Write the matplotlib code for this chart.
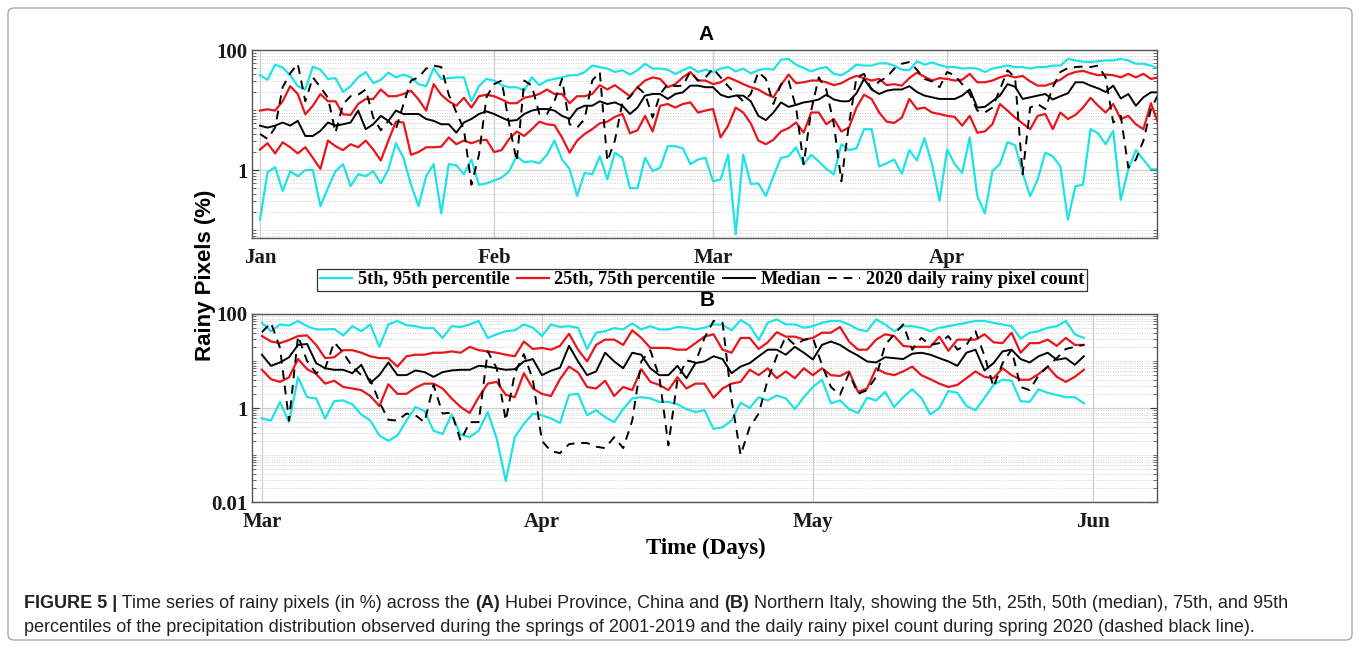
import numpy as np
import pandas as pd
import matplotlib
matplotlib.use('Agg')
import matplotlib.pyplot as plt
import matplotlib.dates as mdates
from matplotlib import font_manager
from matplotlib.text import Annotation
from matplotlib.transforms import IdentityTransform
from matplotlib.patches import FancyBboxPatch
from matplotlib.ticker import FixedLocator, FixedFormatter, LogLocator, NullFormatter

# ---- data: panel A (Hubei, Jan 1 - Apr 29), daily rainy pixels in % ----
start_a = '2020-01-01'
p95_a = [38, 32, 57, 51, 38, 25, 22, 53, 47, 33, 34, 20, 25, 35, 43, 28, 32, 42, 35, 39, 35, 27, 25, 50, 33, 34, 35, 35, 14, 25,
         33, 31, 26, 24, 24, 21, 35, 26, 31, 33, 35, 38, 38, 43, 55, 52, 49, 43, 46, 39, 46, 59, 49, 49, 47, 40, 46, 52, 43, 47,
         43, 49, 52, 44, 49, 41, 46, 49, 47, 69, 71, 57, 50, 44, 49, 52, 40, 38, 45, 57, 55, 55, 60, 60, 55, 47, 46, 65, 57, 62, 56,
         52, 52, 49, 50, 49, 43, 49, 52, 55, 52, 52, 49, 52, 52, 55, 55, 71, 67, 64, 63, 65, 67, 67, 71, 67, 59, 59, 55, 49]
p75_a = [9.8, 10.3, 9.8, 14, 25, 18.5, 8.5, 11.8, 18.5, 14, 14, 8.5, 8.3, 12.6, 15.3, 15.3, 22, 17, 17, 18.5, 21, 15, 9.8, 27, 18, 14, 11.8, 16, 11, 17,
         18, 17, 15, 13, 13, 16, 17, 18.5, 22, 18.5, 18.5, 13, 17, 17, 18.5, 26, 22, 26, 21, 17, 24, 31, 35, 33, 24, 27, 35, 43, 31, 31,
         27, 29, 35, 31, 27, 24, 22, 18.5, 16.3, 26, 39, 28, 29, 31, 31, 29, 26, 28, 33, 37, 34, 31, 33, 26, 27, 25.5, 34, 42, 36, 31, 34,
         33, 31, 32, 40, 29, 29, 31, 35, 38, 35, 37, 30, 25.5, 25.5, 28, 32, 39, 43, 45, 41, 38, 39, 38, 35, 40, 35, 40, 33, 35]
p50_a = [5.5, 5.1, 5.5, 6.2, 5.5, 6.6, 3.7, 3.7, 4.5, 6.2, 5.5, 5.8, 6.2, 9.8, 4.8, 5.8, 8.0, 6.6, 9.8, 8.6, 8.6, 8.6, 7.1, 6.6, 5.8, 5.8, 4.2, 6.2, 7.1, 8.6,
         9.5, 8.6, 7.5, 6.6, 6.8, 8.6, 9.8, 10.4, 10.4, 9.8, 8.0, 7.1, 10.4, 11.8, 11.8, 14, 12.6, 13.4, 11.8, 8.6, 11, 17.4, 18.5, 18.5, 15.3, 18.5, 19.7, 25.5, 25.5, 24,
         24, 18, 16.3, 17.4, 17.4, 14, 8, 6.8, 9.1, 13.4, 11.3, 12.2, 13.4, 14, 15, 18, 15, 14, 14, 19, 33, 22, 18.5, 21, 22, 22, 25, 20, 17.4, 16.3, 15.3,
         15.3, 15.3, 17.4, 22, 11, 11.3, 14, 17.4, 27, 24.5, 15.3, 16.3, 17.4, 18.5, 15, 17, 19, 29, 29, 25.5, 23, 20, 25.5, 15.6, 18.5, 11.8, 16.3, 19.7, 19.7]
p25_a = [2.2, 2.8, 1.9, 2.9, 2.4, 1.9, 2.4, 1.6, 1.05, 3.1, 2.5, 2.15, 2.7, 2.4, 3.1, 2.2, 1.45, 3.1, 6.4, 6.2, 1.8, 2.0, 2.4, 2.4, 2.45, 3.5, 2.7, 3.1, 2.8, 3.1,
         3.2, 2.0, 2.15, 3.3, 4.4, 3.7, 4.8, 6.4, 5.8, 5.6, 3.5, 1.95, 3.1, 4.0, 4.8, 6.0, 6.4, 7.7, 8.6, 4.1, 4.6, 8.0, 4.4, 11.8, 12.6, 11, 12.6, 13.4, 9.1, 9.8,
         10.4, 3.5, 5.5, 11, 9.1, 6, 3.1, 2.7, 3.2, 4.4, 5, 6.2, 4.2, 9.1, 9.1, 5.8, 7.1, 4.4, 5.1, 11, 18, 15.3, 9.1, 6.4, 6.1, 7.5, 15.3, 10.4, 11, 9.1, 8.6,
         8, 7.7, 5.5, 8, 4.2, 4.4, 5.8, 12.6, 9.8, 7.5, 6, 4.8, 8, 8.6, 4.8, 9.1, 7.1, 8.3, 11, 16, 11.8, 9.1, 12.6, 7.1, 8, 5.8, 4.8, 13, 5.8]
p5_a = [0.15, 0.92, 1.12, 0.45, 0.96, 0.79, 1.0, 1.0, 0.25, 0.5, 0.96, 1.26, 0.54, 0.85, 0.79, 0.96, 0.6, 1.03, 2.8, 1.6, 0.57, 0.25, 0.79, 1.26, 0.19, 1.26, 1.2, 0.85, 1.5, 0.57,
        0.6, 0.67, 0.75, 0.96, 1.7, 1.35, 1.4, 1.3, 1.8, 3.1, 1.5, 1.05, 0.37, 0.9, 0.85, 1.7, 0.7, 1.95, 1.6, 0.5, 0.5, 1.6, 0.96, 1.1, 2.5, 2.5, 2.3, 1.26, 1.5, 1.6,
        0.65, 0.7, 1.8, 0.085, 1.8, 0.59, 0.6, 0.37, 0.79, 1.6, 1.7, 2.4, 1.26, 1.8, 1.4, 1.05, 0.85, 2.7, 2.15, 2.3, 4.8, 4.8, 1.15, 1.3, 1.5, 0.87, 2.15, 1.45, 3.4, 1.26, 0.31,
        2.2, 1.26, 0.9, 3.5, 0.37, 0.19, 0.96, 1.26, 2.9, 2.6, 0.9, 0.37, 0.7, 1.95, 1.7, 1.15, 0.15, 0.54, 0.57, 4.8, 4.1, 2.7, 4.5, 0.32, 1.03, 2.15, 1.5, 1.03, 1.03]
y2020_a = [4.0, 3.3, 5.1, 24, 41, 59, 14, 35, 24, 16, 4.2, 12.6, 17, 18, 22, 7.5, 4.6, 6.6, 4.8, 12.6, 31, 35, 49, 55, 52, 18, 9.2, 4.8, 0.57, 1.8,
           16.5, 27, 31, 5.8, 1.4, 31, 25.5, 8.6, 8.6, 14, 33, 5.8, 5.1, 7.1, 31, 43, 1.4, 3.1, 13.4, 16.5, 24, 18.5, 7.5, 18.5, 27, 25, 25.5, 44, 31, 35,
           49, 35, 25, 18.5, 14, 18.5, 43, 33, 12.6, 27, 31, 11, 1.25, 9.8, 35, 22, 5.8, 0.65, 5.8, 35, 40, 22, 30, 35, 49, 59, 63, 47, 33, 30, 24,
           43, 38, 27, 18.5, 9.8, 9.1, 11, 22, 46, 35, 0.85, 11, 12.6, 10.4, 24, 43, 50, 52, 53, 52, 55, 35, 6.2, 8, 1.1, 1.5, 3.1, 10.4, 18.5]

# ---- data: panel B (Northern Italy, Mar 1 - May 31) ----
start_b = '2020-03-01'
p95_b = [65, 43, 60, 57, 71, 55, 47, 47, 48, 35, 55, 43, 60, 20, 60, 71, 58, 55, 50, 50, 31, 55, 53, 60, 71, 31, 37, 43, 45, 60, 51, 34,
         60, 53, 55, 51, 18, 40, 43, 50, 47, 63, 47, 55, 47, 47, 53, 51, 47, 51, 60, 59, 45, 74, 57, 28, 65, 77, 60, 60, 51, 55,
         65, 71, 71, 60, 47, 43, 77, 60, 43, 55, 55, 51, 43, 51, 55, 60, 65, 71, 71, 65, 60, 55, 30, 40, 43, 51, 55, 71, 37, 31]
p75_b = [34, 26, 24, 28, 34, 35, 22, 11.5, 12, 17, 17, 15, 12.6, 11.5, 11.5, 7.6, 12.6, 13.6, 13.6, 15, 15, 16, 15, 20, 17, 16, 15, 13.6, 12.6, 26, 18, 19,
         17.4, 21, 38, 17.4, 9.8, 22, 28.5, 28.5, 22, 45, 31, 19, 19, 19, 17.4, 17.4, 24, 33, 37, 17.4, 15, 31, 31, 18, 25, 41, 33, 33, 28.5, 31,
         40, 40, 53, 26, 17.4, 17.4, 28.5, 37, 34, 21, 20, 20, 20, 33, 16.5, 28.5, 28.5, 28.5, 37, 25, 24, 40, 15, 24, 24, 28.5, 21, 31, 22, 22]
p50_b = [13.6, 7.9, 9.3, 12, 22, 23, 9, 7, 6.5, 6.5, 5.5, 8.3, 3.4, 5, 9.3, 5, 5, 6.3, 5.8, 4.6, 5.8, 6.3, 6.5, 6.5, 7.9, 7.6, 7, 6.5, 6.7, 9.8, 11, 5,
         6.2, 7.2, 21, 9.8, 5, 6, 15, 9.8, 7, 15, 13.6, 7, 5, 5, 7.9, 4.3, 9, 9.8, 12.6, 11, 5.5, 7.6, 9, 12.6, 17.4, 17.4, 13.6, 20, 15, 10.8,
         22, 26, 22, 16.5, 13, 9.8, 9.3, 12, 11.5, 11, 14.3, 15, 13.6, 11.5, 9.8, 7.9, 15, 17.4, 6.3, 9, 16, 17.4, 11, 9.3, 12.6, 15, 10.6, 11.5, 8.3, 12.6]
p25_b = [6.5, 4.1, 3.6, 4.5, 11, 6.7, 5.3, 3.3, 3.8, 2.8, 2.6, 2.4, 1.8, 1.1, 3.2, 2.0, 2.0, 2.7, 3.3, 3.3, 2.6, 1.6, 1.05, 0.78, 1.7, 3.3, 3.6, 1.9, 1.7, 5.5, 2.6, 2.0,
         1.8, 4.1, 7.6, 5.7, 2.8, 2.6, 3.8, 1.8, 2.8, 2.4, 6.7, 3.6, 3.1, 2.4, 4.5, 2.6, 3.3, 3.3, 1.65, 2.6, 3.3, 3.6, 6.5, 5, 7, 4.3, 6, 4.3, 7, 5,
         7, 5, 4.8, 6, 2.2, 2.6, 7, 5.5, 5, 6, 7.6, 5, 4.1, 3.3, 2.8, 3.1, 4.3, 6, 4.6, 4.3, 7, 5, 4, 4, 5.3, 7.6, 4.6, 3.6, 4.6, 6.5]
p5_b = [0.6, 0.54, 1.35, 0.5, 4.5, 1.7, 1.6, 0.6, 1.4, 1.45, 1.2, 0.73, 0.54, 0.26, 0.2, 0.26, 0.54, 1.05, 0.86, 0.33, 0.28, 0.73, 0.27, 0.24, 0.33, 0.82, 0.22, 0.028, 0.24, 0.46, 0.76, 0.7,
        0.6, 0.48, 1.9, 2.0, 0.7, 0.9, 0.64, 0.5, 0.95, 1.6, 1.7, 1.6, 1.35, 1.35, 1.2, 0.95, 0.82, 0.9, 0.36, 0.39, 0.54, 1.3, 1.0, 1.7, 1.45, 1.85, 1.6, 0.95, 1.7, 2.8,
        4, 1.26, 1.45, 0.95, 0.78, 1.65, 1.45, 2.2, 1.05, 1.7, 2.5, 1.65, 0.73, 1.0, 2.3, 2.1, 1.1, 0.9, 1.65, 3.1, 4, 3.8, 1.4, 1.35, 2.5, 2.1, 1.9, 1.7, 1.7, 1.26]
y2020_b = [41, 65, 19, 0.54, 34, 10, 5.5, 7, 25, 15, 7.6, 5, 4, 1.35, 0.56, 0.54, 0.76, 0.7, 0.5, 3.1, 0.76, 0.8, 0.2, 0.5, 0.5, 16, 7, 0.54, 5.5, 14, 4, 0.2,
           0.12, 0.11, 0.17, 0.18, 0.18, 0.15, 0.14, 0.24, 0.14, 0.54, 9.8, 17, 4.6, 0.16, 4, 10.3, 9.3, 31, 71, 65, 1.5, 0.1, 0.39, 0.76, 4, 12.6, 33, 22, 28, 31,
           8.3, 2.8, 1.9, 5.5, 2.0, 2.4, 4.6, 22, 37, 60, 17.4, 31, 22, 24, 34, 17.4, 22, 43, 13, 2.8, 9, 17.4, 2.8, 2.4, 5, 7.6, 11.5, 18, 20, 22]

legend_labels = ['5th, 95th percentile', '25th, 75th percentile', 'Median', '2020 daily rainy pixel count']

caption_1 = [('FIGURE 5 |', 'bold'), (' Time series of rainy pixels (in %) across the ', 'normal'), ('(A)', 'bold'),
             (' Hubei Province, China and ', 'normal'), ('(B)', 'bold'),
             (' Northern Italy, showing the 5th, 25th, 50th (median), 75th, and 95th', 'normal')]
caption_2 = ('percentiles of the precipitation distribution observed during the springs of 2001-2019 '
             'and the daily rainy pixel count during spring 2020 (dashed black line).')

# ---- style ----
W, H = 1360, 648
SERIF = ['Liberation Serif', 'DejaVu Serif']
SANS = ['Liberation Sans', 'DejaVu Sans']
CYAN = '#1EE3E6'
RED = '#E8161C'
GRID = '#cfcfcf'

installed = {f.name for f in font_manager.fontManager.ttflist}
CAP_FONT = ['Liberation Sans Narrow'] + SANS if 'Liberation Sans Narrow' in installed else SANS


def fig_box(l, t, r, b):
    return [l / W, 1 - b / H, (r - l) / W, (b - t) / H]


fig = plt.figure(figsize=(W / 100, H / 100), dpi=100)
ax_a = fig.add_axes(fig_box(252, 50, 1157, 238))
ax_b = fig.add_axes(fig_box(252, 314, 1157, 502))


def draw_panel(ax, start, p5, p25, p50, p75, p95, y2020, xlim_days, ylow, yticks, ylabels):
    dates = pd.date_range(start, periods=len(p5), freq='D')
    lines = []
    lines.append(ax.plot(dates, p95, color=CYAN, lw=1.6)[0])
    ax.plot(dates, p5, color=CYAN, lw=1.6)
    lines.append(ax.plot(dates, p75, color=RED, lw=1.6)[0])
    ax.plot(dates, p25, color=RED, lw=1.6)
    lines.append(ax.plot(dates, p50, color='black', lw=1.4)[0])
    lines.append(ax.plot(dates, y2020, color='black', lw=1.4, ls=(0, (4.5, 3.5)))[0])

    t0 = pd.Timestamp(start)
    ax.set_xlim(t0 + pd.Timedelta(days=xlim_days[0]), t0 + pd.Timedelta(days=xlim_days[1]))
    ax.set_yscale('log')
    ax.set_ylim(ylow, 100)

    ax.yaxis.set_major_locator(FixedLocator(yticks))
    ax.yaxis.set_major_formatter(FixedFormatter(ylabels))
    ax.yaxis.set_minor_locator(LogLocator(base=10, subs=np.arange(1, 10), numticks=30))
    ax.yaxis.set_minor_formatter(NullFormatter())
    ax.xaxis.set_major_locator(mdates.MonthLocator())
    ax.xaxis.set_major_formatter(mdates.DateFormatter('%b'))

    ax.grid(True, which='major', color=GRID, lw=0.9)
    ax.grid(True, which='minor', axis='y', color=GRID, lw=0.7, ls=(0, (1, 1.5)))
    ax.set_axisbelow(True)

    ax.tick_params(axis='y', which='major', direction='in', length=5, width=0.8, right=True, pad=3, colors='#333333')
    ax.tick_params(axis='y', which='minor', direction='in', length=3, width=0.6, right=True, colors='#555555')
    ax.tick_params(axis='x', which='both', length=0, pad=7)
    for lab in ax.get_xticklabels() + ax.get_yticklabels():
        lab.set_family(SERIF)
        lab.set_fontweight('bold')
        lab.set_fontsize(15)
        lab.set_color('#1a1a1a')
    for sp in ax.spines.values():
        sp.set_color('#555555')
        sp.set_linewidth(1.0)
    return lines


handles = draw_panel(ax_a, start_a, p5_a, p25_a, p50_a, p75_a, p95_a, y2020_a,
                     (-1.06, 118.8), 0.074, [1, 100], ['1', '100'])
draw_panel(ax_b, start_b, p5_b, p25_b, p50_b, p75_b, p95_b, y2020_b,
           (-1.1, 99.1), 0.01, [0.01, 1, 100], ['0.01', '1', '100'])

# panel letters, axis labels
fig.text(706 / W, 1 - 35 / H, 'A', ha='center', va='center', family=SANS, fontweight='bold', fontsize=15)
fig.text(707 / W, 1 - 300 / H, 'B', ha='center', va='center', family=SANS, fontweight='bold', fontsize=15)
fig.text(205 / W, 1 - 275 / H, 'Rainy Pixels (%)', rotation=90, ha='center', va='center',
         family=SANS, fontweight='bold', fontsize=16)
fig.text(706 / W, 1 - 548 / H, 'Time (Days)', ha='center', va='center',
         family=SERIF, fontweight='bold', fontsize=16.5)

leg = fig.legend(handles, legend_labels, loc='center', bbox_to_anchor=(702 / W, 1 - 280 / H), ncol=4,
                 prop=dict(family=SERIF, weight='bold', size=13.2), handlelength=1.75, handletextpad=0.3,
                 columnspacing=0.4, borderpad=0.15, borderaxespad=0, fancybox=False, framealpha=1,
                 edgecolor='#333333')
leg.get_frame().set_linewidth(0.9)

# outer frame
frame = FancyBboxPatch((8, 8), W - 16, H - 16, boxstyle='round,pad=0,rounding_size=6',
                       transform=IdentityTransform(), fill=False, edgecolor='#a8a8a8', lw=1.0)
fig.patches.append(frame)

# caption, bold fragments chained on one baseline
cap_size = 12
pieces = []
first = fig.text(24 / W, 1 - 612 / H, caption_1[0][0], ha='left', va='bottom', family=CAP_FONT,
                 fontweight=caption_1[0][1], fontsize=cap_size, color='#222222')
pieces.append(first)
prev = first
for txt, wt in caption_1[1:]:
    ann = Annotation(txt, xy=(1, 0), xycoords=prev, ha='left', va='bottom', family=CAP_FONT,
                     fontweight=wt, fontsize=cap_size, color='#222222')
    fig.add_artist(ann)
    pieces.append(ann)
    prev = ann
line2 = fig.text(24 / W, 1 - 636 / H, caption_2, ha='left', va='bottom', family=CAP_FONT,
                 fontsize=cap_size, color='#222222')
pieces.append(line2)

# fit line 1 to the width it takes in the figure (24 px .. 1292 px)
fig.canvas.draw()
r = fig.canvas.get_renderer()
right = prev.get_window_extent(r).x1
scale = (1292 - 24) / (right - 24)
for p in pieces:
    p.set_fontsize(cap_size * scale)

fig.savefig('out.png', dpi=100)
